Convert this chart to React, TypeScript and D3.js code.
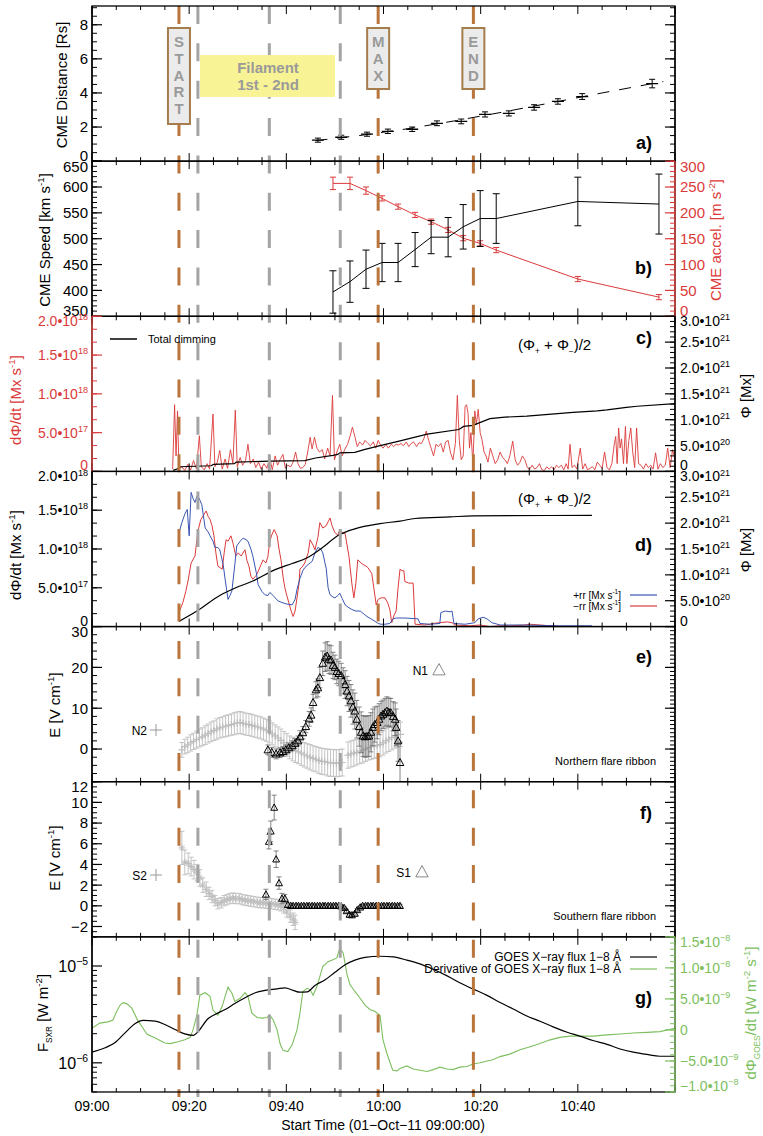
import React, { useEffect, useRef } from 'react';
import * as d3 from 'd3';

const FONT = '"Liberation Sans", Arial, Helvetica, sans-serif';
const ORANGE = '#b9753b';
const DASHGREY = '#a4a4a4';
const RED = '#db3a3a';
const BLUE = '#3a55b2';
const GREEN = '#7dbf5e';
const LIGHT = '#bdbdbd';

// event markers, minutes after 09:00
const startTime = 17.9;
const maxTime = 58.9;
const endTime = 78.5;
const filamentTimes = [21.8, 36.5, 51.1];

// x axis
const timeTicks = [0, 20, 40, 60, 80, 100];
const timeLabels = ['09:00', '09:20', '09:40', '10:00', '10:20', '10:40'];

// a) CME distance
const distTime = [46.5, 51.3, 56.6, 60.9, 65.9, 71.0, 76.0, 80.9, 85.8, 91.0, 95.9, 100.9, 115.3];
const distVal = [1.23, 1.4, 1.58, 1.75, 1.87, 2.22, 2.33, 2.74, 2.8, 3.15, 3.5, 3.79, 4.55];
const distErr = [0.12, 0.12, 0.12, 0.13, 0.13, 0.14, 0.14, 0.15, 0.15, 0.16, 0.16, 0.17, 0.25];
const distFitTime = [46, 55, 65, 75, 85, 95, 105, 117.6];
const distFitVal = [1.2, 1.5, 1.9, 2.38, 2.9, 3.45, 4.0, 4.67];
const distTicks = [0, 2, 4, 6, 8];

// b) CME speed and acceleration
const speedTime = [49.6, 53.1, 56.4, 59.7, 63.0, 66.5, 69.8, 73.3, 76.4, 79.9, 83.2, 100.0, 116.7];
const speedVal = [397, 417, 441, 454, 454, 479, 503, 503, 523, 539, 539, 572, 567];
const speedErr = [41, 40, 37, 37, 37, 33, 32, 38, 43, 54, 48, 47, 58];
const accelVal = [257, 257, 243, 228, 212, 196, 183, 167, 151, 141, 128, 72, 37];
const accelErr = [12, 12, 7, 5, 5, 5, 5, 5, 5, 5, 5, 5, 5];
const speedTicks = [350, 400, 450, 500, 550, 600, 650];
const accelTicks = [0, 50, 100, 150, 200, 250, 300];

// c) total dimming: rate (1e17 Mx/s) and cumulative flux (1e21 Mx)
const dimRate: [number, number][] = [
  [16.6, 0.3], [17.0, 8.6], [17.3, 2.0], [17.6, 7.8], [17.9, 0.3], [18.5, 0.6], [19.1, 0.1], [19.7, 0.9], [20.3, 0.2], [20.9, 1.4],
  [21.5, 0.3], [22.1, 4.6], [22.5, 0.6], [23.1, 0.2], [23.7, 1.0], [24.2, 0.3], [24.9, 7.4], [25.3, 0.6], [25.8, 1.2], [26.3, 2.7],
  [26.8, 0.3], [27.4, 1.6], [27.9, 0.4], [28.5, 2.8], [29.0, 1.0], [29.5, 7.9], [29.9, 0.6], [30.5, 1.8], [31.0, 0.8], [31.6, 1.4],
  [32.1, 3.5], [32.6, 1.0], [33.2, 1.6], [33.7, 0.5], [34.3, 1.2], [34.8, 0.3], [35.4, 1.0], [36.0, 0.4], [36.6, 1.8], [37.1, 0.2],
  [37.7, 2.0], [38.2, 0.8], [38.7, 1.5], [39.3, 2.2], [39.8, 0.4], [40.3, 0.8], [40.9, 0.6], [41.4, 1.2], [41.9, 2.5], [42.4, 1.0],
  [42.9, 0.4], [43.4, 0.5], [43.9, 0.9], [44.4, 2.5], [44.9, 4.4], [45.3, 2.9], [45.8, 4.4], [46.3, 3.0], [46.8, 2.5], [47.4, 2.8],
  [47.9, 1.6], [48.5, 3.0], [49.0, 2.0], [49.5, 9.8], [49.9, 1.5], [50.4, 2.5], [51.0, 3.5], [51.5, 2.0], [52.0, 2.8], [52.6, 3.5],
  [53.1, 4.5], [53.6, 5.7], [54.1, 4.5], [54.6, 3.2], [55.1, 3.8], [55.7, 3.4], [56.2, 4.0], [56.8, 3.6], [57.3, 3.3], [57.9, 3.8],
  [58.4, 3.0], [58.9, 4.0], [59.4, 3.4], [59.9, 3.0], [60.5, 3.5], [61.0, 3.0], [61.6, 3.5], [62.1, 3.2], [62.6, 3.5], [63.1, 3.4],
  [63.6, 3.6], [64.1, 3.3], [64.7, 3.8], [65.2, 3.2], [65.7, 3.6], [66.2, 3.8], [66.8, 3.2], [67.3, 3.7], [67.8, 3.6], [68.3, 4.2],
  [68.8, 5.2], [69.3, 4.0], [69.8, 3.0], [70.3, 2.0], [70.8, 3.5], [71.3, 3.2], [71.8, 3.6], [72.3, 2.5], [72.8, 3.8], [73.3, 4.0],
  [73.8, 2.4], [74.3, 1.5], [74.8, 3.6], [75.2, 9.8], [75.6, 4.0], [76.0, 1.5], [76.4, 2.0], [76.8, 8.4], [77.1, 8.6], [77.4, 7.5],
  [77.7, 3.0], [78.0, 5.0], [78.4, 1.0], [78.8, 7.8], [79.1, 6.0], [79.5, 8.0], [79.9, 5.0], [80.3, 4.0], [80.7, 2.5], [81.1, 2.0],
  [81.5, 1.2], [82.0, 3.0], [82.5, 2.0], [83.0, 1.0], [83.5, 1.5], [84.0, 2.5], [84.5, 1.8], [85.0, 1.5], [85.5, 1.0], [86.0, 2.0],
  [86.6, 3.9], [87.1, 1.5], [87.6, 0.8], [88.1, 1.2], [88.6, 2.0], [89.1, 1.5], [89.6, 0.5], [90.1, 0.3], [90.6, 0.8], [91.1, 0.3],
  [91.6, 0.5], [92.1, 1.0], [92.6, 0.2], [93.1, 0.1], [93.6, 0.6], [94.1, 0.3], [94.6, 0.6], [95.1, 0.2], [95.6, 0.8], [96.1, 0.5],
  [96.6, 0.8], [97.1, 0.2], [97.6, 1.0], [98.0, 0.3], [98.4, 3.5], [98.8, 0.5], [99.3, 0.8], [99.8, 0.3], [100.5, 3.0], [101.0, 0.3],
  [101.5, 1.0], [102.0, 0.2], [102.5, 0.4], [103.0, 0.6], [103.5, 0.2], [104.0, 1.2], [104.5, 0.8], [105.0, 0.4], [105.5, 2.5], [106.0, 0.5],
  [106.5, 0.2], [107.0, 1.0], [107.5, 3.5], [107.8, 4.5], [108.1, 1.0], [108.4, 5.6], [108.7, 3.0], [109.0, 4.2], [109.4, 1.0], [109.8, 5.8],
  [110.1, 1.0], [110.5, 4.0], [110.9, 5.6], [111.3, 2.5], [111.7, 0.5], [112.1, 5.6], [112.5, 1.0], [113.0, 0.8], [113.5, 0.3], [114.0, 1.0],
  [114.5, 0.5], [115.0, 0.8], [115.5, 0.3], [116.0, 2.4], [116.5, 0.3], [117.0, 1.0], [117.5, 0.5], [118.0, 0.8], [118.5, 3.0], [119.0, 0.5],
  [119.5, 2.8], [120.0, 1.5],
];
const dimFlux: [number, number][] = [
  [16.7, 0.02], [17.9, 0.06], [18.2, 0.09], [24.5, 0.11], [25.0, 0.135], [29.3, 0.15], [29.7, 0.18], [36.5, 0.2], [43.8, 0.21],
  [46, 0.26], [49.6, 0.31], [50.6, 0.33], [51.0, 0.36], [54.1, 0.37], [56, 0.42], [59.3, 0.5], [63, 0.58], [69.0, 0.72],
  [75.5, 0.81], [76.5, 0.87], [78.4, 0.89], [81.9, 1.02], [85, 1.05], [89.5, 1.07], [99.0, 1.14], [104, 1.17], [106, 1.19],
  [110, 1.24], [112.2, 1.26], [120, 1.31],
];
const rateTicks = [0, 5, 10, 15, 20];
const rateLabels: any[] = ['0', ['5.0•10', '17'], ['1.0•10', '18'], ['1.5•10', '18'], ['2.0•10', '18']];
const fluxTicks = [0, 0.5, 1, 1.5, 2, 2.5, 3];
const fluxLabels: any[] = ['0', ['5.0•10', '20'], ['1.0•10', '21'], ['1.5•10', '21'], ['2.0•10', '21'], ['2.5•10', '21'], ['3.0•10', '21']];

// d) positive / negative reconnection rate (1e18 Mx/s) and flux (1e21 Mx)
const plusRate: [number, number][] = [
  [17.9, 1.21], [18.5, 1.34], [19.1, 1.45], [19.6, 1.51], [20.0, 1.17], [20.4, 1.73], [20.8, 1.65], [21.2, 1.6], [21.6, 1.68], [22.0, 1.66],
  [22.6, 1.57], [23.3, 1.27], [23.9, 1.22], [24.3, 1.17], [24.9, 1.1], [25.3, 1.02], [25.9, 1.02], [26.3, 0.99], [27.0, 0.8], [27.4, 0.61],
  [28.0, 0.35], [28.4, 0.4], [28.8, 0.46], [29.4, 0.8], [29.8, 1.04], [30.5, 1.1], [31.1, 1.14], [31.7, 1.12], [32.1, 1.1], [32.7, 1.0],
  [33.1, 0.91], [33.8, 0.7], [34.2, 0.54], [35.0, 0.45], [35.6, 0.41], [36.2, 0.4], [36.6, 0.44], [37.3, 0.4], [37.7, 0.37], [38.3, 0.33],
  [39.1, 0.31], [40.1, 0.29], [41.2, 0.28], [41.8, 0.35], [42.2, 0.48], [42.8, 0.62], [43.4, 0.72], [43.8, 0.76], [44.5, 0.8], [45.3, 0.84],
  [45.9, 0.95], [46.5, 1.02], [47.1, 1.0], [47.5, 0.95], [48.2, 0.75], [48.6, 0.5], [49.0, 0.41], [49.6, 0.38], [50.0, 0.37], [50.6, 0.4],
  [51.0, 0.43], [51.5, 0.36], [52.1, 0.28], [52.7, 0.25], [53.5, 0.22], [54.3, 0.2], [55.2, 0.2], [56.0, 0.16], [56.6, 0.13], [57.4, 0.1],
  [58.2, 0.07], [58.9, 0.04], [59.5, 0.03], [60.3, 0.03], [61.3, 0.04], [62.0, 0.1], [62.6, 0.11], [64.4, 0.11], [67.1, 0.1], [67.5, 0.04],
  [69.6, 0.03], [71.6, 0.04], [71.8, 0.18], [72.7, 0.2], [73.7, 0.19], [74.1, 0.2], [74.5, 0.04], [76.8, 0.03], [78.8, 0.05], [79.5, 0.1],
  [80.5, 0.12], [81.3, 0.1], [82.3, 0.05], [84.0, 0.02], [88.1, 0.02], [96.3, 0.01], [102.9, 0.01],
];
const minusRate: [number, number][] = [
  [17.9, 0.18], [18.7, 0.31], [19.3, 0.45], [19.8, 0.6], [20.4, 0.82], [21.2, 0.91], [21.8, 1.23], [22.4, 1.38], [23.1, 1.45], [23.5, 1.49],
  [23.9, 1.42], [24.3, 1.38], [24.7, 1.3], [25.1, 1.17], [25.5, 0.95], [25.9, 0.78], [26.8, 0.74], [27.2, 0.95], [27.6, 1.12], [28.0, 1.1],
  [28.6, 1.17], [29.0, 1.08], [29.6, 0.91], [30.1, 0.95], [30.7, 0.91], [31.5, 0.99], [31.9, 0.85], [32.3, 0.78], [32.7, 0.65], [33.1, 0.61],
  [33.8, 0.66], [34.2, 0.71], [34.8, 0.8], [35.2, 0.86], [35.8, 0.82], [36.2, 0.9], [36.6, 1.1], [37.0, 1.18], [37.5, 1.25], [38.1, 1.17],
  [38.5, 1.0], [38.9, 0.86], [39.3, 0.65], [39.7, 0.5], [40.1, 0.4], [40.5, 0.31], [41.0, 0.2], [41.4, 0.13], [41.8, 0.2], [42.2, 0.37],
  [42.6, 0.55], [42.8, 0.74], [43.4, 0.78], [43.8, 0.82], [44.5, 0.95], [44.9, 1.12], [45.5, 1.05], [45.9, 0.99], [46.5, 1.15], [46.9, 1.34],
  [47.5, 1.27], [48.2, 1.3], [48.6, 1.35], [49.0, 1.4], [49.4, 1.3], [50.0, 1.21], [50.6, 1.18], [51.0, 1.25], [51.7, 1.2], [52.1, 1.2],
  [52.5, 1.05], [52.9, 0.9], [53.1, 0.78], [53.5, 0.55], [53.9, 0.37], [54.3, 0.55], [54.7, 0.86], [55.4, 0.82], [55.8, 0.8], [56.4, 0.78],
  [56.8, 0.76], [57.2, 0.72], [57.6, 0.68], [58.0, 0.5], [58.5, 0.28], [58.9, 0.35], [59.5, 0.37], [60.3, 0.37], [60.9, 0.3], [61.3, 0.22],
  [61.7, 0.05], [62.2, 0.15], [62.6, 0.2], [63.0, 0.5], [63.4, 0.74], [63.8, 0.72], [64.2, 0.72], [64.4, 0.58], [65.2, 0.56], [66.1, 0.56],
  [66.3, 0.3], [66.5, 0.03], [68.5, 0.02], [69.6, 0.03], [70.2, 0.04], [71.6, 0.05], [73.1, 0.06], [74.1, 0.05], [74.7, 0.02], [77.8, 0.01],
  [79.9, 0.02], [81.9, 0.0], [84, 0.01], [86, 0.01], [89.1, 0.02], [90.1, 0.03], [92.2, 0.02], [96.3, 0.0], [102.9, 0.0],
];
const ribbonFlux: [number, number][] = [
  [17.9, 0.1], [21.6, 0.3], [26.3, 0.6], [29.6, 0.75], [33.1, 0.88], [37.7, 1.1], [41.2, 1.22], [44.3, 1.33], [46.9, 1.49],
  [51.0, 1.78], [54.1, 1.89], [59.3, 1.99], [63.4, 2.04], [66.5, 2.09], [73.7, 2.12], [78.4, 2.14], [102.9, 2.15],
];
const rrTicks = [0, 0.5, 1, 1.5, 2];

// e) northern ribbon electric field
const n2T0 = 18.5;
const n2Dt = 0.6;
const n2Val = [-0.2, 0.6, 1.0, 1.5, 1.9, 2.3, 2.7, 3.0, 3.4, 3.8, 4.2, 4.5, 4.9, 5.2, 5.4, 5.6, 5.8, 6.0, 6.2, 6.4,
  6.5, 6.3, 6.1, 6.0, 5.8, 5.6, 5.4, 5.2, 4.9, 4.6, 4.2, 3.7, 3.2, 2.7, 2.1, 1.5, 1.0, 0.4, 0.0, -0.4,
  -0.7, -1.0, -1.4, -1.7, -2.0, -2.3, -2.5, -2.8, -3.0, -3.1, -3.3, -3.4, -3.4, -3.5, -3.4, -3.3, null, -1.5, -1.2, -1.0,
  -0.8, -0.5, -0.3, 0.0, 0.3, 0.5, 0.7, 0.9, 1.1, 1.5, 2.0, 2.4, 2.8, 3.2, 3.5, 3.6];
const n2Err = [1.8, 1.8, 1.9, 2.0, 2.0, 2.1, 2.2, 2.2, 2.3, 2.3, 2.4, 2.4, 2.5, 2.5, 2.5, 2.6, 2.6, 2.6, 2.7, 2.7,
  2.7, 2.7, 2.7, 2.7, 2.7, 2.7, 2.7, 2.7, 2.7, 2.7, 2.7, 2.7, 2.7, 2.7, 2.8, 2.8, 2.8, 2.8, 2.9, 2.9,
  2.9, 3.0, 3.0, 3.0, 3.1, 3.1, 3.1, 3.2, 3.2, 3.2, 3.3, 3.3, 3.3, 3.3, 3.3, 3.3, null, 3.2, 3.2, 3.2,
  3.1, 3.1, 3.1, 3.0, 3.0, 3.0, 3.0, 3.0, 3.0, 3.0, 3.0, 3.0, 3.0, 3.0, 3.0, 3.0];
const n1Time = [36.2, 37.0, 37.9, 38.7, 39.3, 39.9, 40.5, 41.2, 41.8, 42.4, 42.8, 43.4, 44.0, 44.7, 45.1, 45.5, 46.1, 46.5, 46.9, 47.5,
  48.0, 48.4, 48.8, 49.2, 49.6, 50.0, 50.4, 50.8, 51.3, 51.7, 52.1, 52.5, 52.9, 53.3, 53.7, 54.1, 54.5, 55.0, 55.4, 55.8,
  56.2, 56.6, 57.0, 57.4, 57.8, 58.2, 58.7, 59.1, 59.5, 59.9, 60.3, 60.7, 61.1, 61.5, 62.0, 62.4, 62.6, 63.0, 63.4];
const n1Val = [-0.2, -0.8, -1.2, -0.9, -0.6, -0.2, 0.3, 0.8, 1.4, 2.0, 3.0, 4.0, 5.5, 7.4, 8.3, 11.4, 14.5, 15.0, 17.5, 21.0,
  22.5, 22.8, 22.0, 21.8, 20.5, 20.0, 19.0, 18.5, 18.0, 16.7, 15.8, 14.2, 13.0, 11.8, 10.3, 9.3, 7.3, 5.5, 4.1, 3.2,
  3.0, 3.1, 3.2, 4.1, 5.3, 6.0, 6.5, 7.3, 8.1, 8.5, 8.9, 9.3, 9.0, 8.9, 8.0, 7.3, 5.3, 2.0, -3.3];
const n1Err = [1.2, 1.2, 1.2, 1.2, 1.2, 1.2, 1.2, 1.2, 1.2, 1.2, 1.5, 1.5, 1.5, 1.8, 1.8, 2.0, 2.0, 2.2, 2.5, 3.0,
  3.5, 3.5, 3.5, 3.5, 3.2, 3.0, 3.0, 3.0, 3.0, 3.2, 3.4, 3.6, 3.8, 4.0, 4.2, 4.4, 4.6, 4.8, 5.0, 5.0,
  5.0, 5.0, 5.0, 4.8, 4.5, 4.3, 4.0, 3.8, 3.6, 3.5, 3.5, 3.5, 3.5, 3.5, 3.6, 4.0, 4.5, 5.0, 5.0];
const eTicks = [0, 10, 20, 30];

// f) southern ribbon electric field
const s2Time = [18.5, 19.1, 19.8, 20.4, 21.0, 21.6, 22.2, 22.8, 23.5, 24.1, 24.7, 25.3, 25.9, 26.6, 27.2, 27.8, 28.4, 29.0, 29.6, 30.3,
  30.9, 31.5, 32.1, 32.7, 33.3, 34.0, 34.6, 35.2, 35.8, 36.4, 37.0, 37.7, 38.3, 38.9, 39.5, 40.1, 40.8, 41.4, 41.8];
const s2Val = [5.6, 4.2, 4.1, 3.8, 3.5, 3.2, 2.7, 2.0, 1.6, 1.2, 0.9, 0.5, 0.2, 0.3, 0.5, 0.6, 0.7, 0.75, 0.7, 0.7,
  0.6, 0.55, 0.5, 0.45, 0.4, 0.35, 0.3, 0.3, 0.25, 0.25, 0.2, 0.15, 0.1, 0.0, -0.2, -0.6, -1.0, -1.3, -1.6];
const s2Err = [1.6, 1.2, 1.0, 0.9, 0.9, 0.8, 0.8, 0.7, 0.7, 0.6, 0.6, 0.5, 0.5, 0.5, 0.5, 0.5, 0.5, 0.5, 0.5, 0.5,
  0.5, 0.5, 0.5, 0.5, 0.5, 0.5, 0.5, 0.5, 0.5, 0.5, 0.5, 0.5, 0.5, 0.5, 0.5, 0.5, 0.6, 0.6, 0.7];
const s1Time = [35.8, 36.4, 36.8, 37.5, 37.9, 38.5, 39.1, 39.7, 40.3, 40.9, 41.4, 42.0, 42.5, 43.1, 43.6, 44.2, 44.7, 45.3, 45.8, 46.4,
  46.9, 47.5, 48.0, 48.6, 49.1, 49.7, 50.2, 50.8, 51.3, 51.9, 52.4, 53.0, 53.5, 54.1, 54.6, 55.2, 55.7, 56.3, 56.8, 57.4,
  57.9, 58.5, 59.0, 59.6, 60.1, 60.7, 61.2, 61.8, 62.3, 62.9, 63.4];
const s1Val = [1.1, 6.2, 7.2, 9.5, 4.5, 2.2, 0.7, 0.7, 0.1, 0.0, 0.0, 0.0, 0.0, 0.0, 0.0, 0.0, 0.0, 0.0, 0.0, 0.0,
  0.0, 0.0, 0.0, 0.0, 0.0, 0.0, 0.0, 0.0, -0.05, -0.2, -0.5, -0.85, -0.9, -0.75, -0.4, -0.15, 0.0, 0.0, 0.0, 0.0,
  0.0, 0.0, 0.0, 0.0, 0.0, 0.0, 0.0, 0.0, 0.0, 0.0, 0.0];
const s1Err = [0.5, 0.7, 1.0, 1.2, 0.8, 0.6, 0.5, 0.4, 0.2, 0.15, 0.15, 0.15, 0.15, 0.15, 0.15, 0.15, 0.15, 0.15, 0.15, 0.15,
  0.15, 0.15, 0.15, 0.15, 0.15, 0.15, 0.15, 0.15, 0.15, 0.15, 0.15, 0.15, 0.15, 0.15, 0.15, 0.15, 0.15, 0.15, 0.15, 0.15,
  0.15, 0.15, 0.15, 0.15, 0.15, 0.15, 0.15, 0.15, 0.15, 0.15, 0.15];
const fTicks = [-2, 0, 2, 4, 6, 8, 10, 12];

// g) GOES flux (W m^-2) and derivative (1e-9 W m^-2 s^-1)
const goesFlux: [number, number][] = [
  [0, 1.29e-6], [2.7, 1.43e-6], [4.7, 1.61e-6], [6.8, 2.04e-6], [8.9, 2.55e-6], [10.5, 2.75e-6], [13.0, 2.7e-6], [15.0, 2.49e-6],
  [17.1, 2.21e-6], [19.1, 1.99e-6], [20.8, 1.92e-6], [22.2, 2.21e-6], [23.7, 2.8e-6], [25.3, 3.16e-6], [27.4, 3.55e-6], [29.4, 4.1e-6],
  [31.5, 4.7e-6], [33.6, 5.3e-6], [35.6, 5.6e-6], [38.1, 5.8e-6], [39.7, 5.95e-6], [41.4, 5.6e-6], [42.8, 5.36e-6], [44.3, 5.4e-6],
  [45.9, 6.3e-6], [48.0, 7.2e-6], [50.0, 8.6e-6], [52.1, 1.03e-5], [54.1, 1.15e-5], [56.2, 1.23e-5], [59.3, 1.26e-5], [62.0, 1.24e-5],
  [64.8, 1.15e-5], [67.5, 1.05e-5], [70.2, 9.25e-6], [73.1, 7.9e-6], [75.7, 6.7e-6], [78.4, 5.8e-6], [81.3, 4.97e-6], [84.0, 4.2e-6],
  [86.7, 3.6e-6], [89.5, 3.05e-6], [92.2, 2.69e-6], [94.9, 2.35e-6], [97.8, 2.07e-6], [100.4, 1.89e-6], [103.1, 1.7e-6], [106.0, 1.55e-6],
  [108.7, 1.39e-6], [111.4, 1.29e-6], [114.2, 1.22e-6], [116.9, 1.17e-6], [120, 1.17e-6],
];
const goesDeriv: [number, number][] = [
  [0, 0.3], [1.6, 1.1], [3.3, 1.3], [4.3, 1.6], [5.1, 3.0], [5.8, 4.0], [6.4, 4.4], [7.2, 4.2], [8.2, 3.5], [9.3, 1.7],
  [10.3, 0.5], [11.3, -0.65], [13.0, -1.3], [15.0, -2.1], [16.1, -2.2], [17.7, -1.9], [19.1, -1.6], [20.2, -1.2], [20.8, 0], [21.6, 2.4],
  [22.2, 5.6], [23.3, 6.0], [24.3, 5.4], [24.9, 3.2], [25.9, 2.4], [26.8, 3.8], [27.4, 5.4], [28.0, 6.9], [28.8, 5.9], [29.4, 4.6],
  [30.5, 5.1], [31.5, 6.0], [32.1, 5.4], [32.9, 2.7], [34.0, 2.0], [35.0, 1.9], [36.0, 2.0], [36.6, 2.4], [37.3, 1.6], [38.1, 0],
  [38.7, -2.2], [39.3, -3.3], [40.3, -3.5], [41.2, -2.4], [42.2, 0], [42.8, 2.7], [43.4, 6.2], [44.3, 6.7], [44.9, 6.5], [45.5, 5.6],
  [46.3, 7.0], [46.9, 8.6], [47.5, 10.2], [48.6, 11.0], [49.6, 11.3], [50.4, 11.6], [51.0, 13.2], [51.7, 12.4], [52.5, 8.9], [53.1, 7.3],
  [54.1, 6.2], [55.2, 5.1], [56.2, 4.0], [57.2, 3.3], [58.2, 3.0], [59.3, 2.3], [59.9, -1.6], [60.7, -3.8], [61.9, -6.5], [62.8, -6.6],
  [63.4, -6.2], [64.8, -5.8], [66.1, -6.3], [67.5, -6.5], [69.0, -6.7], [70.2, -6.4], [71.6, -6.0], [73.1, -6.3], [74.3, -6.4], [75.7, -6.0],
  [77.2, -5.9], [78.4, -5.5], [79.9, -5.3], [81.3, -5.0], [82.5, -4.8], [84.0, -4.3], [86.0, -3.9], [88.1, -3.2], [90.2, -2.7], [92.2, -2.2],
  [94.3, -1.6], [96.3, -1.2], [98.4, -1.0], [100.4, -1.0], [103.1, -1.0], [106.0, -0.8], [108.7, -0.65], [111.4, -0.5], [114.2, -0.4], [116.9, -0.27],
  [120, 0.27],
];
const goesTicks = [1e-6, 1e-5];
const goesLabels: any[] = [['10', '−6'], ['10', '−5']];
const derivTicks = [-10, -5, 0, 5, 10, 15];
const derivLabels: any[] = [['−1.0•10', '−8'], ['−5.0•10', '−9'], '0', ['5.0•10', '−9'], ['1.0•10', '−8'], ['1.5•10', '−8']];

const App = () => {
  const ref = useRef<SVGSVGElement | null>(null);

  useEffect(() => {
    const svg = d3.select(ref.current);
    svg.selectAll('*').remove();

    const XL = 92, XR = 675, PT = 6, PH = 155.14;
    const top = (i: number) => PT + i * PH;
    const bot = (i: number) => PT + (i + 1) * PH;
    const x = d3.scaleLinear().domain([0, 120]).range([XL, XR]);

    const defs = svg.append('defs');
    d3.range(7).forEach((i) => {
      defs.append('clipPath').attr('id', 'clip' + i).append('rect')
        .attr('x', XL).attr('y', top(i)).attr('width', XR - XL).attr('height', PH);
    });
    const layer = (i: number) => svg.append('g').attr('clip-path', `url(#clip${i})`);

    const rich = (t: any, parts: [string, string][], size: number) => {
      let off = 0;
      parts.forEach(([s, k]) => {
        const target = k === 'sup' ? -size * 0.42 : k === 'sub' ? size * 0.28 : 0;
        t.append('tspan').attr('dy', target - off)
          .attr('font-size', k === 'n' ? size : k === 'sub' ? size * 0.55 : size * 0.65)
          .text(s);
        off = target;
      });
    };

    const putLabel = (g: any, px: number, py: number, lab: any, anchor: string, color: string, size: number) => {
      const t = g.append('text').attr('x', px).attr('y', py).attr('text-anchor', anchor)
        .attr('fill', color).attr('font-size', size);
      if (typeof lab === 'string') t.text(lab);
      else rich(t, [[lab[0], 'n'], [lab[1], 'sup']], size);
    };

    const title = (px: number, py: number, parts: [string, string][], color: string, size = 15) => {
      const t = svg.append('text').attr('transform', `translate(${px},${py}) rotate(-90)`)
        .attr('text-anchor', 'middle').attr('fill', color).attr('font-size', size);
      rich(t, parts, size);
    };

    const axisY = (i: number, scale: any, side: string, ticks: number[], labels: any[] | null,
      minors: number[], color: string, size = 15) => {
      const xa = side === 'left' ? XL : XR;
      const s = side === 'left' ? 1 : -1;
      const g = svg.append('g');
      minors.forEach((v) => {
        const yy = scale(v);
        if (yy < top(i) - 0.5 || yy > bot(i) + 0.5) return;
        g.append('line').attr('x1', xa).attr('x2', xa + s * 5).attr('y1', yy).attr('y2', yy)
          .attr('stroke', color).attr('stroke-width', 1);
      });
      ticks.forEach((v, k) => {
        const yy = scale(v);
        g.append('line').attr('x1', xa).attr('x2', xa + s * 10).attr('y1', yy).attr('y2', yy)
          .attr('stroke', color).attr('stroke-width', 1.2);
        if (labels) {
          let ly = yy + size * 0.36;
          if (Math.abs(yy - top(i)) < 1.5) ly += 5;
          if (Math.abs(yy - bot(i)) < 1.5) ly -= 6;
          putLabel(g, side === 'left' ? xa - 4 : xa + 5, ly, labels[k], side === 'left' ? 'end' : 'start', color, size);
        }
      });
      g.append('line').attr('x1', xa).attr('x2', xa).attr('y1', top(i)).attr('y2', bot(i))
        .attr('stroke', color).attr('stroke-width', 1.3);
    };

    const errorBars = (g: any, ts: number[], vs: any[], es: any[], y: any, color: string, cap: number, w: number) => {
      ts.forEach((t, k) => {
        if (vs[k] == null || es[k] == null) return;
        const cx = x(t), y0 = y(vs[k] - es[k]), y1 = y(vs[k] + es[k]);
        g.append('line').attr('x1', cx).attr('x2', cx).attr('y1', y0).attr('y2', y1)
          .attr('stroke', color).attr('stroke-width', w);
        [y0, y1].forEach((yy) => g.append('line').attr('x1', cx - cap).attr('x2', cx + cap)
          .attr('y1', yy).attr('y2', yy).attr('stroke', color).attr('stroke-width', w));
      });
    };

    const tri = (s: number) => `M0,${-s} L${s * 0.95},${s * 0.75} L${-s * 0.95},${s * 0.75}Z`;

    // ---------- a) distance
    const yA = d3.scaleLinear().domain([0, 9.1]).range([bot(0), top(0)]);
    const gA = layer(0);
    gA.append('path')
      .attr('d', d3.line<number>().x((_, k) => x(distFitTime[k])).y((d) => yA(d))(distFitVal))
      .attr('fill', 'none').attr('stroke', '#000').attr('stroke-width', 1).attr('stroke-dasharray', '12,10');
    errorBars(gA, distTime, distVal, distErr, yA, '#000', 3, 1);
    distTime.forEach((t, k) => {
      gA.append('line').attr('x1', x(t) - 6).attr('x2', x(t) + 6).attr('y1', yA(distVal[k])).attr('y2', yA(distVal[k]))
        .attr('stroke', '#000').attr('stroke-width', 1.3);
    });

    // ---------- b) speed / accel
    const yB = d3.scaleLinear().domain([350, 650]).range([bot(1), top(1)]);
    const yAcc = d3.scaleLinear().domain([0, 300]).range([bot(1), top(1)]);
    const gB = layer(1);
    gB.append('path')
      .attr('d', d3.line<number>().x((_, k) => x(speedTime[k])).y((d) => yAcc(d))(accelVal))
      .attr('fill', 'none').attr('stroke', RED).attr('stroke-width', 1);
    errorBars(gB, speedTime, accelVal, accelErr, yAcc, RED, 3, 1);
    gB.append('path')
      .attr('d', d3.line<number>().x((_, k) => x(speedTime[k])).y((d) => yB(d))(speedVal))
      .attr('fill', 'none').attr('stroke', '#000').attr('stroke-width', 1);
    errorBars(gB, speedTime, speedVal, speedErr, yB, '#000', 3.5, 1);

    // ---------- c) total dimming
    const yRateC = d3.scaleLinear().domain([0, 20]).range([bot(2), top(2)]);
    const yFluxC = d3.scaleLinear().domain([0, 3]).range([bot(2), top(2)]);
    const gC = layer(2);
    gC.append('path')
      .attr('d', d3.line<[number, number]>().x((d) => x(d[0])).y((d) => yRateC(d[1]))(dimRate))
      .attr('fill', 'none').attr('stroke', RED).attr('stroke-width', 0.9);
    gC.append('path')
      .attr('d', d3.line<[number, number]>().x((d) => x(d[0])).y((d) => yFluxC(d[1]))(dimFlux))
      .attr('fill', 'none').attr('stroke', '#000').attr('stroke-width', 1.2);

    // ---------- d) reconnection rates
    const yRateD = d3.scaleLinear().domain([0, 2]).range([bot(3), top(3)]);
    const yFluxD = d3.scaleLinear().domain([0, 3]).range([bot(3), top(3)]);
    const gD = layer(3);
    gD.append('path')
      .attr('d', d3.line<[number, number]>().x((d) => x(d[0])).y((d) => yRateD(d[1]))(minusRate))
      .attr('fill', 'none').attr('stroke', RED).attr('stroke-width', 1);
    gD.append('path')
      .attr('d', d3.line<[number, number]>().x((d) => x(d[0])).y((d) => yRateD(d[1]))(plusRate))
      .attr('fill', 'none').attr('stroke', BLUE).attr('stroke-width', 1);
    gD.append('path')
      .attr('d', d3.line<[number, number]>().x((d) => x(d[0])).y((d) => yFluxD(d[1])).curve(d3.curveMonotoneX)(ribbonFlux))
      .attr('fill', 'none').attr('stroke', '#000').attr('stroke-width', 1.2);

    // ---------- e) northern ribbon
    const yE = d3.scaleLinear().domain([-8, 30]).range([bot(4), top(4)]);
    const gE = layer(4);
    const n2Time = n2Val.map((_, k) => n2T0 + k * n2Dt);
    errorBars(gE, n2Time, n2Val, n2Err, yE, LIGHT, 2.5, 0.9);
    n2Time.forEach((t, k) => {
      if (n2Val[k] == null) return;
      const cx = x(t), cy = yE(n2Val[k] as number);
      gE.append('path').attr('d', `M${cx - 3.5},${cy}H${cx + 3.5}M${cx},${cy - 3.5}V${cy + 3.5}`)
        .attr('stroke', LIGHT).attr('stroke-width', 1.2);
    });
    errorBars(gE, n1Time, n1Val, n1Err, yE, '#666', 2.5, 0.8);
    n1Time.forEach((t, k) => {
      gE.append('path').attr('d', tri(4)).attr('transform', `translate(${x(t)},${yE(n1Val[k])})`)
        .attr('fill', 'none').attr('stroke', '#000').attr('stroke-width', 1);
    });

    // ---------- f) southern ribbon
    const yF = d3.scaleLinear().domain([-3, 12]).range([bot(5), top(5)]);
    const gF = layer(5);
    errorBars(gF, s2Time, s2Val, s2Err, yF, LIGHT, 2.5, 0.9);
    s2Time.forEach((t, k) => {
      const cx = x(t), cy = yF(s2Val[k]);
      gF.append('path')
        .attr('d', `M${cx - 3.5},${cy}H${cx + 3.5}M${cx},${cy - 3.5}V${cy + 3.5}M${cx - 2.5},${cy - 2.5}L${cx + 2.5},${cy + 2.5}M${cx - 2.5},${cy + 2.5}L${cx + 2.5},${cy - 2.5}`)
        .attr('stroke', LIGHT).attr('stroke-width', 1);
    });
    errorBars(gF, s1Time, s1Val, s1Err, yF, '#666', 2.5, 0.8);
    s1Time.forEach((t, k) => {
      gF.append('path').attr('d', tri(3.6)).attr('transform', `translate(${x(t)},${yF(s1Val[k])})`)
        .attr('fill', 'none').attr('stroke', '#000').attr('stroke-width', 1);
    });

    // ---------- g) GOES
    const yG = d3.scaleLog().domain([5e-7, 2e-5]).range([bot(6), top(6)]);
    const yDer = d3.scaleLinear().domain([-10, 15]).range([bot(6), top(6)]);
    const gG = layer(6);
    gG.append('path')
      .attr('d', d3.line<[number, number]>().x((d) => x(d[0])).y((d) => yDer(d[1]))(goesDeriv))
      .attr('fill', 'none').attr('stroke', GREEN).attr('stroke-width', 1.1);
    gG.append('path')
      .attr('d', d3.line<[number, number]>().x((d) => x(d[0])).y((d) => yG(d[1])).curve(d3.curveMonotoneX)(goesFlux))
      .attr('fill', 'none').attr('stroke', '#000').attr('stroke-width', 1.2);

    // ---------- event lines
    const lines = svg.append('g');
    const vline = (t: number, color: string) => lines.append('line')
      .attr('x1', x(t)).attr('x2', x(t)).attr('y1', 6).attr('y2', 1097)
      .attr('stroke', color).attr('stroke-width', 3).attr('stroke-dasharray', '18,19.35');
    filamentTimes.forEach((t) => vline(t, DASHGREY));
    [startTime, maxTime, endTime].forEach((t) => vline(t, ORANGE));

    // label boxes
    const box = (t: number, y0: number, y1: number, letters: string) => {
      lines.append('rect').attr('x', x(t) - 11).attr('y', y0).attr('width', 22).attr('height', y1 - y0)
        .attr('fill', '#ebebeb').attr('stroke', '#a77c4c').attr('stroke-width', 2);
      letters.split('').forEach((c, k) => {
        lines.append('text').attr('x', x(t)).attr('y', y0 + 19 + k * 16.8).attr('text-anchor', 'middle')
          .attr('fill', '#9a9a9a').attr('font-weight', 'bold').attr('font-size', 15).text(c);
      });
    };
    box(startTime, 28, 124, 'START');
    box(maxTime, 28, 89, 'MAX');
    box(endTime, 28, 89, 'END');
    lines.append('rect').attr('x', 200).attr('y', 55).attr('width', 135).attr('height', 42).attr('fill', '#f8f394');
    lines.append('text').attr('x', 268).attr('y', 73).attr('text-anchor', 'middle').attr('fill', '#9a9a9a')
      .attr('font-weight', 'bold').attr('font-size', 15).text('Filament');
    lines.append('text').attr('x', 268).attr('y', 90).attr('text-anchor', 'middle').attr('fill', '#9a9a9a')
      .attr('font-weight', 'bold').attr('font-size', 15).text('1st - 2nd');

    // ---------- frames and x ticks
    const minorT = d3.range(0, 121, 5);
    d3.range(7).forEach((i) => {
      svg.append('rect').attr('x', XL).attr('y', top(i)).attr('width', XR - XL).attr('height', PH)
        .attr('fill', 'none').attr('stroke', '#000').attr('stroke-width', 1.3);
      minorT.forEach((t) => {
        const len = t % 20 === 0 ? 8 : 4;
        svg.append('line').attr('x1', x(t)).attr('x2', x(t)).attr('y1', top(i)).attr('y2', top(i) + len)
          .attr('stroke', '#000').attr('stroke-width', 1);
        svg.append('line').attr('x1', x(t)).attr('x2', x(t)).attr('y1', bot(i)).attr('y2', bot(i) - len)
          .attr('stroke', '#000').attr('stroke-width', 1);
      });
    });

    // ---------- y axes
    const rng = (a: number, b: number, s: number) => d3.range(a, b + s * 0.01, s);
    axisY(0, yA, 'left', distTicks, distTicks.map(String), rng(0, 9, 0.5), '#000');
    axisY(0, yA, 'right', distTicks, null, rng(0, 9, 0.5), '#000');
    axisY(1, yB, 'left', speedTicks, speedTicks.map(String), rng(350, 650, 10), '#000');
    axisY(1, yAcc, 'right', accelTicks, accelTicks.map(String), rng(0, 300, 10), RED);
    axisY(2, yRateC, 'left', rateTicks, rateLabels, rng(0, 20, 5 / 3), RED, 14);
    axisY(2, yFluxC, 'right', fluxTicks, fluxLabels, rng(0, 3, 0.1), '#000', 14);
    axisY(3, yRateD, 'left', rrTicks, rateLabels, rng(0, 2, 1 / 6), '#000', 14);
    axisY(3, yFluxD, 'right', fluxTicks, fluxLabels, rng(0, 3, 0.1), '#000', 14);
    axisY(4, yE, 'left', eTicks, eTicks.map(String), rng(-8, 30, 2), '#000');
    axisY(4, yE, 'right', eTicks, null, rng(-8, 30, 1), '#000');
    axisY(5, yF, 'left', fTicks, fTicks.map((v) => (v < 0 ? '−' + Math.abs(v) : String(v))), rng(-3, 12, 0.5), '#000');
    axisY(5, yF, 'right', fTicks, null, rng(-3, 12, 0.5), '#000');
    const logMinor: number[] = [];
    [1e-7, 1e-6, 1e-5].forEach((d) => d3.range(2, 10).forEach((m) => logMinor.push(m * d)));
    axisY(6, yG, 'left', goesTicks, goesLabels, logMinor, '#000', 16);
    axisY(6, yDer, 'right', derivTicks, derivLabels, rng(-10, 15, 1), GREEN, 14);

    // ---------- x labels
    timeTicks.forEach((t, k) => {
      svg.append('text').attr('x', x(t)).attr('y', 1111).attr('text-anchor', 'middle')
        .attr('font-size', 14).attr('fill', '#000').text(timeLabels[k]);
    });
    svg.append('text').attr('x', 383).attr('y', 1130).attr('text-anchor', 'middle')
      .attr('font-size', 14).attr('fill', '#000').text('Start Time (01−Oct−11 09:00:00)');

    // ---------- axis titles
    title(67, 85, [['CME Distance [Rs]', 'n']], '#000');
    title(50, 240, [['CME Speed [km s', 'n'], ['-1', 'sup'], [']', 'n']], '#000');
    title(721, 240, [['CME accel. [m s', 'n'], ['-2', 'sup'], [']', 'n']], RED);
    title(21, 400, [['dΦ/dt [Mx s', 'n'], ['-1', 'sup'], [']', 'n']], RED);
    title(751, 396, [['Φ [Mx]', 'n']], '#000');
    title(21, 555, [['dΦ/dt [Mx s', 'n'], ['-1', 'sup'], [']', 'n']], '#000');
    title(751, 550, [['Φ [Mx]', 'n']], '#000');
    title(60, 705, [['E [V cm', 'n'], ['-1', 'sup'], [']', 'n']], '#000');
    title(60, 858, [['E [V cm', 'n'], ['-1', 'sup'], [']', 'n']], '#000');
    title(48, 1013, [['F', 'n'], ['SXR', 'sub'], [' [W m', 'n'], ['-2', 'sup'], [']', 'n']], '#000');
    title(756, 1013, [['dΦ', 'n'], ['GOES', 'sub'], ['/dt [W m', 'n'], ['-2', 'sup'], [' s', 'n'], ['-1', 'sup'], [']', 'n']], GREEN);

    // ---------- panel letters
    const letterY = [149, 274, 344, 551, 663, 819, 1004];
    'abcdefg'.split('').forEach((c, i) => {
      svg.append('text').attr('x', 652).attr('y', letterY[i]).attr('text-anchor', 'end')
        .attr('font-size', 18).attr('font-weight', 'bold').attr('fill', '#000').text(c + ')');
    });

    // ---------- annotations
    const phi = (py: number) => {
      const t = svg.append('text').attr('x', 518).attr('y', py).attr('font-size', 15).attr('fill', '#000');
      rich(t, [['(Φ', 'n'], ['+', 'sub'], [' + Φ', 'n'], ['−', 'sub'], [')/2', 'n']], 15);
    };
    phi(350);
    phi(504);

    svg.append('line').attr('x1', 110).attr('x2', 137).attr('y1', 339).attr('y2', 339).attr('stroke', '#000').attr('stroke-width', 1.5);
    svg.append('text').attr('x', 148).attr('y', 343).attr('font-size', 11).attr('fill', '#000').text('Total dimming');

    const legLine = (py: number, color: string) => svg.append('line').attr('x1', 630).attr('x2', 657)
      .attr('y1', py).attr('y2', py).attr('stroke', color).attr('stroke-width', 1.2);
    const legText = (py: number, parts: [string, string][], size: number) => {
      const t = svg.append('text').attr('x', 621).attr('y', py + size * 0.35).attr('text-anchor', 'end')
        .attr('font-size', size).attr('fill', '#000');
      rich(t, parts, size);
    };
    legLine(595, BLUE);
    legText(595, [['+rr [Mx s', 'n'], ['-1', 'sup'], [']', 'n']], 10);
    legLine(606, RED);
    legText(606, [['−rr [Mx s', 'n'], ['-1', 'sup'], [']', 'n']], 10);
    legLine(957, '#000');
    legText(957, [['GOES X−ray flux 1−8 Å', 'n']], 12);
    legLine(969, GREEN);
    legText(969, [['Derivative of GOES X−ray flux 1−8 Å', 'n']], 12);

    svg.append('text').attr('x', 656).attr('y', 765).attr('text-anchor', 'end').attr('font-size', 11)
      .attr('fill', '#000').text('Northern flare ribbon');
    svg.append('text').attr('x', 656).attr('y', 920).attr('text-anchor', 'end').attr('font-size', 11)
      .attr('fill', '#000').text('Southern flare ribbon');

    const tag = (px: number, py: number, name: string, kind: string) => {
      svg.append('text').attr('x', px).attr('y', py + 4.5).attr('text-anchor', 'end').attr('font-size', 12)
        .attr('fill', '#000').text(name);
      if (kind === 'plus') {
        svg.append('path').attr('d', `M${px + 3},${py}H${px + 15}M${px + 9},${py - 6}V${py + 6}`)
          .attr('stroke', '#999').attr('stroke-width', 1);
      } else {
        svg.append('path').attr('d', tri(6.5)).attr('transform', `translate(${px + 11},${py})`)
          .attr('fill', 'none').attr('stroke', '#888').attr('stroke-width', 1);
      }
    };
    tag(147, 730, 'N2', 'plus');
    tag(147, 875, 'S2', 'plus');
    tag(428, 670, 'N1', 'tri');
    tag(411, 872, 'S1', 'tri');
  }, []);

  return (
    <svg ref={ref} width={763} height={1136}
      style={{ position: 'absolute', left: 0, top: 0, background: '#fff', fontFamily: FONT }} />
  );
};

export default App;
